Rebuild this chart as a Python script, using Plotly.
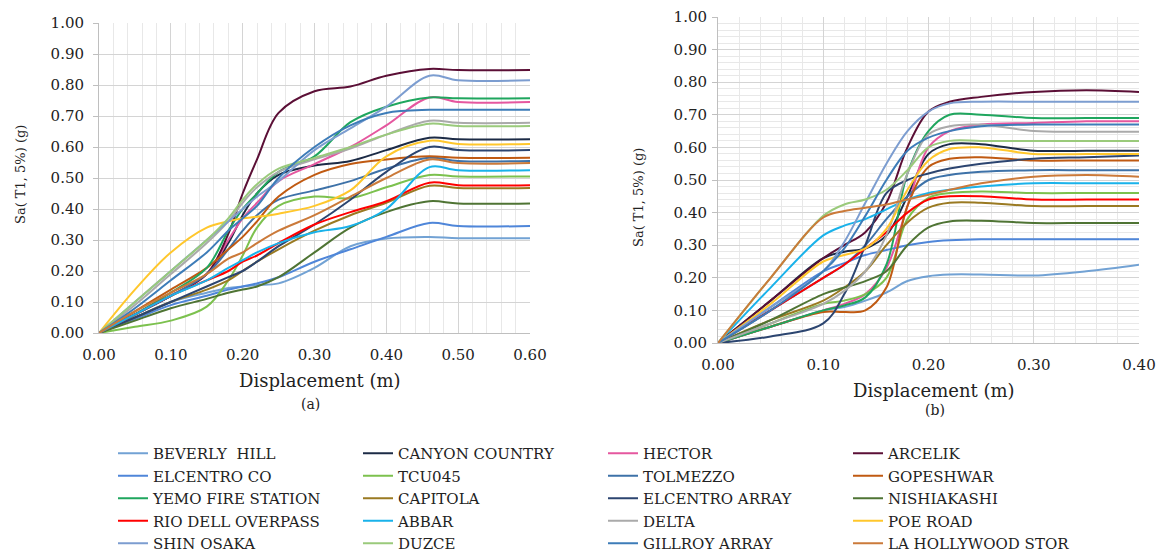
import plotly.graph_objects as go

# ---------------- data ----------------
NAMES = ["BEVERLY  HILL", "CANYON COUNTRY", "HECTOR", "ARCELIK",
         "ELCENTRO CO", "TCU045", "TOLMEZZO", "GOPESHWAR",
         "YEMO FIRE STATION", "CAPITOLA", "ELCENTRO ARRAY", "NISHIAKASHI",
         "RIO DELL OVERPASS", "ABBAR", "DELTA", "POE ROAD",
         "SHIN OSAKA", "DUZCE", "GILLROY ARRAY", "LA HOLLYWOOD STOR"]

COLORS = ["#72A2D4", "#1C2B46", "#E5579F", "#5B0F36",
          "#4F86D9", "#7CC14E", "#3E72A8", "#C05A12",
          "#1FA65E", "#9A7A22", "#2C4570", "#4F7434",
          "#FF0000", "#19B2EA", "#AAAAAA", "#FFC72C",
          "#7C9DD0", "#9ACA7B", "#3D7CB8", "#CB7A3A"]

# Panel (a) displacement grid (m)
X_A = [0, 0.05, 0.10, 0.15, 0.18, 0.20, 0.22, 0.25, 0.30, 0.35, 0.40, 0.46, 0.50, 0.60]
beverly_a   = [0, 0.05, 0.10, 0.13, 0.145, 0.15, 0.155, 0.16, 0.21, 0.28, 0.305, 0.31, 0.306, 0.306]
canyon_a    = [0, 0.06, 0.12, 0.19, 0.29, 0.38, 0.45, 0.51, 0.54, 0.555, 0.59, 0.63, 0.625, 0.625]
hector_a    = [0, 0.06, 0.12, 0.19, 0.30, 0.37, 0.42, 0.49, 0.545, 0.60, 0.67, 0.76, 0.745, 0.745]
arcelik_a   = [0, 0.06, 0.12, 0.19, 0.32, 0.45, 0.56, 0.71, 0.78, 0.795, 0.83, 0.852, 0.848, 0.848]
elcentroco_a = [0, 0.045, 0.09, 0.12, 0.14, 0.15, 0.16, 0.18, 0.23, 0.27, 0.31, 0.355, 0.345, 0.345]
tcu045_a    = [0, 0.02, 0.04, 0.085, 0.17, 0.25, 0.34, 0.41, 0.44, 0.435, 0.47, 0.51, 0.505, 0.505]
tolmezzo_a  = [0, 0.06, 0.12, 0.19, 0.27, 0.33, 0.38, 0.43, 0.46, 0.49, 0.53, 0.565, 0.555, 0.555]
gopeshwar_a = [0, 0.07, 0.14, 0.21, 0.27, 0.31, 0.36, 0.44, 0.51, 0.545, 0.56, 0.57, 0.565, 0.565]
yemo_a      = [0, 0.06, 0.13, 0.21, 0.33, 0.40, 0.45, 0.52, 0.57, 0.68, 0.73, 0.76, 0.757, 0.757]
capitola_a  = [0, 0.05, 0.10, 0.14, 0.17, 0.20, 0.23, 0.27, 0.33, 0.38, 0.42, 0.475, 0.468, 0.468]
elarray_a   = [0, 0.05, 0.10, 0.15, 0.18, 0.20, 0.23, 0.28, 0.35, 0.43, 0.52, 0.60, 0.59, 0.59]
nishi_a     = [0, 0.04, 0.08, 0.11, 0.13, 0.14, 0.15, 0.18, 0.26, 0.34, 0.39, 0.425, 0.418, 0.418]
riodell_a   = [0, 0.06, 0.12, 0.17, 0.20, 0.23, 0.25, 0.29, 0.35, 0.39, 0.425, 0.485, 0.477, 0.477]
abbar_a     = [0, 0.06, 0.12, 0.17, 0.21, 0.235, 0.26, 0.29, 0.325, 0.345, 0.40, 0.535, 0.525, 0.525]
delta_a     = [0, 0.09, 0.19, 0.29, 0.36, 0.42, 0.47, 0.52, 0.56, 0.595, 0.64, 0.685, 0.678, 0.678]
poe_a       = [0, 0.14, 0.26, 0.34, 0.36, 0.37, 0.375, 0.385, 0.41, 0.46, 0.57, 0.62, 0.61, 0.61]
shin_a      = [0, 0.10, 0.20, 0.30, 0.36, 0.40, 0.44, 0.49, 0.59, 0.66, 0.73, 0.83, 0.815, 0.815]
duzce_a     = [0, 0.10, 0.20, 0.30, 0.37, 0.43, 0.48, 0.53, 0.565, 0.60, 0.64, 0.675, 0.668, 0.668]
gillroy_a   = [0, 0.08, 0.17, 0.26, 0.33, 0.37, 0.41, 0.50, 0.60, 0.67, 0.71, 0.72, 0.72, 0.72]
lahollywood_a = [0, 0.07, 0.13, 0.19, 0.24, 0.26, 0.29, 0.33, 0.38, 0.44, 0.50, 0.56, 0.548, 0.548]

# Panel (b) displacement grid (m)
X_B = [0, 0.05, 0.10, 0.12, 0.14, 0.16, 0.18, 0.20, 0.22, 0.25, 0.30, 0.35, 0.40]
beverly_b   = [0, 0.05, 0.10, 0.11, 0.13, 0.155, 0.19, 0.205, 0.21, 0.21, 0.207, 0.22, 0.24]
canyon_b    = [0, 0.13, 0.26, 0.28, 0.29, 0.33, 0.45, 0.58, 0.61, 0.61, 0.59, 0.59, 0.59]
hector_b    = [0, 0.05, 0.10, 0.12, 0.15, 0.23, 0.42, 0.60, 0.65, 0.67, 0.675, 0.68, 0.68]
arcelik_b   = [0, 0.13, 0.26, 0.30, 0.34, 0.43, 0.60, 0.71, 0.74, 0.755, 0.77, 0.775, 0.77]
elcentroco_b = [0, 0.11, 0.22, 0.245, 0.27, 0.285, 0.30, 0.31, 0.315, 0.318, 0.318, 0.318, 0.318]
tcu045_b    = [0, 0.06, 0.12, 0.13, 0.15, 0.20, 0.38, 0.445, 0.46, 0.465, 0.46, 0.46, 0.46]
tolmezzo_b  = [0, 0.10, 0.20, 0.24, 0.30, 0.38, 0.45, 0.50, 0.515, 0.525, 0.53, 0.53, 0.53]
gopeshwar_b = [0, 0.05, 0.095, 0.095, 0.10, 0.17, 0.42, 0.54, 0.565, 0.57, 0.56, 0.56, 0.56]
yemo_b      = [0, 0.05, 0.10, 0.115, 0.14, 0.24, 0.52, 0.65, 0.70, 0.70, 0.69, 0.69, 0.69]
capitola_b  = [0, 0.07, 0.13, 0.17, 0.22, 0.30, 0.37, 0.415, 0.43, 0.43, 0.42, 0.42, 0.42]
elarray_b   = [0, 0.02, 0.06, 0.15, 0.30, 0.46, 0.50, 0.52, 0.535, 0.55, 0.565, 0.57, 0.575]
nishi_b     = [0, 0.07, 0.15, 0.17, 0.19, 0.22, 0.30, 0.355, 0.373, 0.375, 0.368, 0.368, 0.368]
riodell_b   = [0, 0.10, 0.20, 0.24, 0.29, 0.34, 0.40, 0.44, 0.45, 0.45, 0.44, 0.44, 0.44]
abbar_b     = [0, 0.17, 0.33, 0.36, 0.38, 0.41, 0.44, 0.46, 0.47, 0.48, 0.49, 0.49, 0.49]
delta_b     = [0, 0.06, 0.12, 0.16, 0.22, 0.33, 0.52, 0.64, 0.665, 0.67, 0.65, 0.648, 0.648]
poe_b       = [0, 0.12, 0.25, 0.27, 0.29, 0.35, 0.47, 0.56, 0.595, 0.60, 0.58, 0.58, 0.58]
shin_b      = [0, 0.11, 0.22, 0.31, 0.43, 0.55, 0.65, 0.71, 0.735, 0.74, 0.74, 0.74, 0.74]
duzce_b     = [0, 0.20, 0.39, 0.425, 0.44, 0.47, 0.53, 0.60, 0.62, 0.62, 0.62, 0.62, 0.62]
gillroy_b   = [0, 0.10, 0.22, 0.29, 0.39, 0.50, 0.59, 0.63, 0.65, 0.665, 0.67, 0.67, 0.67]
lahollywood_b = [0, 0.20, 0.385, 0.405, 0.415, 0.425, 0.44, 0.455, 0.47, 0.49, 0.51, 0.515, 0.51]

SERIES_A = [beverly_a, canyon_a, hector_a, arcelik_a, elcentroco_a, tcu045_a, tolmezzo_a,
            gopeshwar_a, yemo_a, capitola_a, elarray_a, nishi_a, riodell_a, abbar_a,
            delta_a, poe_a, shin_a, duzce_a, gillroy_a, lahollywood_a]
SERIES_B = [beverly_b, canyon_b, hector_b, arcelik_b, elcentroco_b, tcu045_b, tolmezzo_b,
            gopeshwar_b, yemo_b, capitola_b, elarray_b, nishi_b, riodell_b, abbar_b,
            delta_b, poe_b, shin_b, duzce_b, gillroy_b, lahollywood_b]

Y_TICKS = [0.0, 0.1, 0.2, 0.3, 0.4, 0.5, 0.6, 0.7, 0.8, 0.9, 1.0]
X_TICKS_A = [0.0, 0.1, 0.2, 0.3, 0.4, 0.5, 0.6]
X_TICKS_B = [0.0, 0.1, 0.2, 0.3, 0.4]

# ---------------- figure ----------------
W, H = 1163, 557
fig = go.Figure()

for name, col, ya in zip(NAMES, COLORS, SERIES_A):
    fig.add_trace(go.Scatter(x=X_A, y=ya, name=name, mode="lines",
                             line=dict(color=col, width=2, shape="spline", smoothing=1.0),
                             legendgroup=name, xaxis="x", yaxis="y"))
for name, col, yb in zip(NAMES, COLORS, SERIES_B):
    fig.add_trace(go.Scatter(x=X_B, y=yb, name=name, mode="lines", showlegend=False,
                             line=dict(color=col, width=2, shape="spline", smoothing=1.0),
                             legendgroup=name, xaxis="x2", yaxis="y2"))

def px_x(p):
    return p / W

def px_y(p):
    return 1 - p / H

SERIF = "DejaVu Serif"
TICKFONT = dict(family=SERIF, size=15, color="#222222")
GRID = "#D4D4D4"
MINOR = "#E8E8E8"

common_x = dict(showline=True, linecolor="#BFBFBF", linewidth=1, showgrid=True,
                gridcolor=GRID, gridwidth=1, zeroline=False, ticks="",
                tickformat=".2f", tickfont=TICKFONT, ticklabelstandoff=8, automargin=False,
                minor=dict(dtick=0.02, showgrid=True, gridcolor=MINOR, gridwidth=1))
common_y = dict(showline=True, linecolor="#BFBFBF", linewidth=1, showgrid=True,
                gridcolor=GRID, gridwidth=1, zeroline=False, ticks="outside",
                ticklen=5, tickcolor="#BFBFBF", tickformat=".2f", tickfont=TICKFONT,
                range=[0, 1.0], tickvals=Y_TICKS, automargin=False)

fig.update_layout(
    width=W, height=H, margin=dict(l=0, r=0, t=0, b=0, autoexpand=False),
    paper_bgcolor="white", plot_bgcolor="white",
    xaxis=dict(domain=[px_x(99), px_x(530)], range=[0, 0.6], tickvals=X_TICKS_A,
               anchor="y", **common_x),
    yaxis=dict(domain=[px_y(333), px_y(23)], anchor="x", ticklabelstandoff=6, **common_y),
    xaxis2=dict(domain=[px_x(718), px_x(1139)], range=[0, 0.4], tickvals=X_TICKS_B,
                anchor="y2", **common_x),
    yaxis2=dict(domain=[px_y(343), px_y(17)], anchor="x2", ticklabelstandoff=2,
                minor=dict(dtick=0.02, showgrid=True, gridcolor=MINOR, gridwidth=1),
                **common_y),
    legend=dict(orientation="h", x=px_x(113), y=px_y(437), xanchor="left", yanchor="top",
                entrywidth=200, entrywidthmode="pixels", bgcolor="rgba(0,0,0,0)",
                font=dict(family=SERIF, size=15, color="#222222"),
                traceorder="normal", itemwidth=30),
    showlegend=True,
)

TITLEFONT = dict(family=SERIF, size=18, color="#222222")
YTFONT = dict(family=SERIF, size=13, color="#222222")
ann = [
    dict(text="Displacement (m)", x=px_x(320), y=px_y(380), font=TITLEFONT),
    dict(text="(a)", x=px_x(310), y=px_y(404), font=dict(family=SERIF, size=14, color="#222222")),
    dict(text="Displacement (m)", x=px_x(934), y=px_y(390), font=TITLEFONT),
    dict(text="(b)", x=px_x(935), y=px_y(410), font=dict(family=SERIF, size=14, color="#222222")),
    dict(text="Sa( T1, 5%) (g)", x=px_x(21), y=px_y(175), textangle=-90, font=YTFONT),
    dict(text="Sa( T1, 5%) (g)", x=px_x(638), y=px_y(198), textangle=-90, font=YTFONT),
]
for a in ann:
    fig.add_annotation(xref="paper", yref="paper", showarrow=False,
                       xanchor="center", yanchor="middle", **a)

fig.write_html("out.html")
